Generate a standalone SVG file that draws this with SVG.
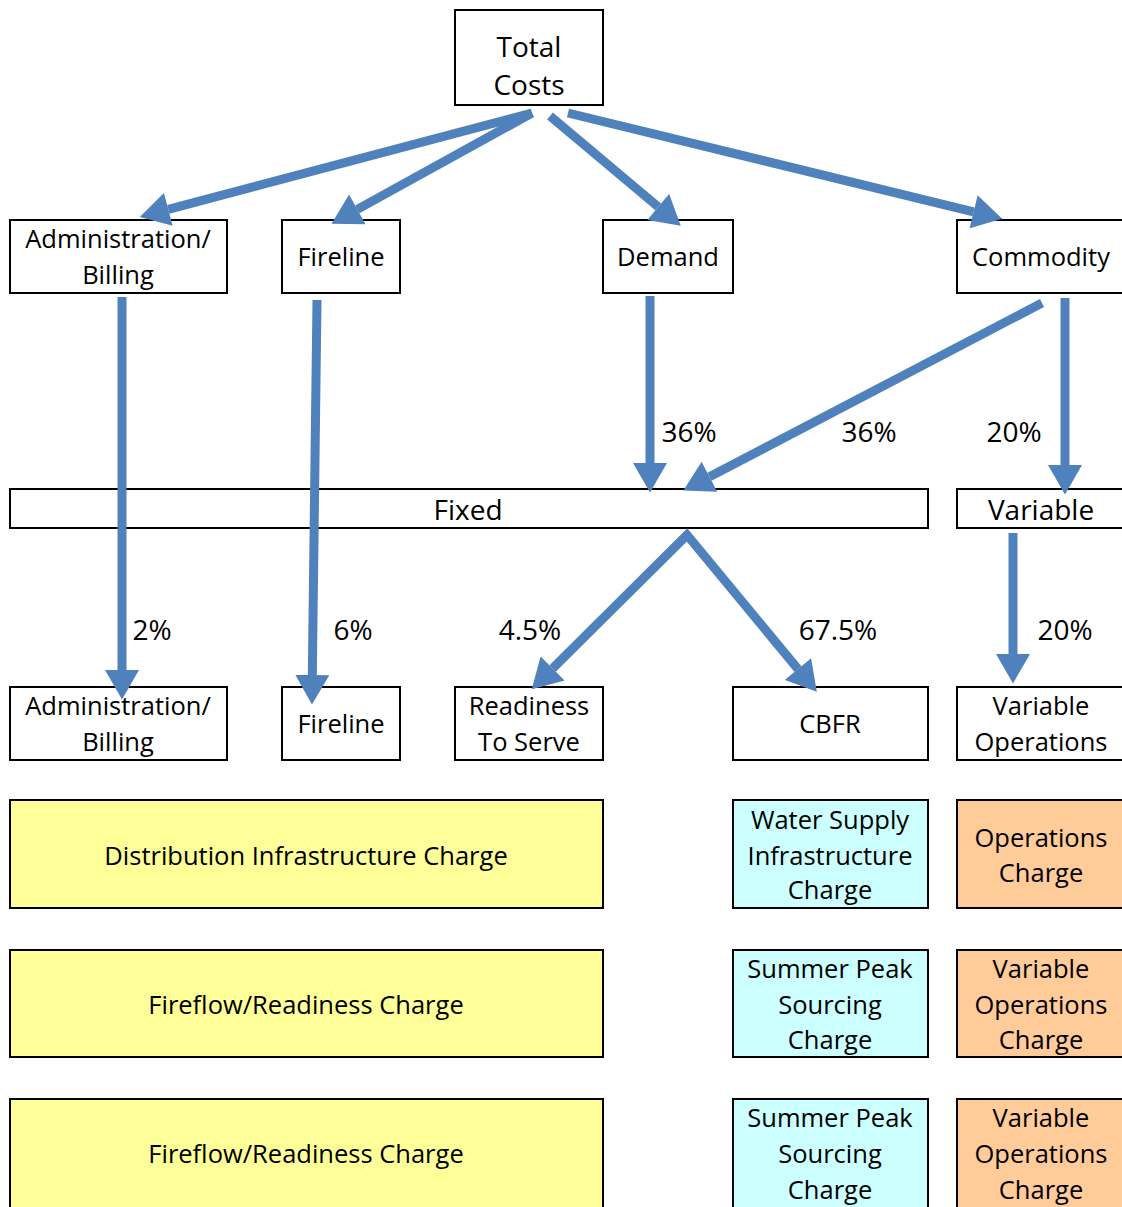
<svg xmlns="http://www.w3.org/2000/svg" width="1122" height="1207" viewBox="0 0 1122 1207">
<defs>
<style>
.box{fill:#fff;stroke:#000;stroke-width:2}
.y{fill:#FFFF99;stroke:#000;stroke-width:2}
.c{fill:#CCFFFF;stroke:#000;stroke-width:2}
.o{fill:#FFCC99;stroke:#000;stroke-width:2}
text{font-family:"Open Sans","Noto Sans",sans-serif;font-size:25.5px;fill:#000;text-anchor:middle;dominant-baseline:central}
text.big{font-size:28px}
.arr{fill:none;stroke:#4F81BD;stroke-width:9;marker-end:url(#ah)}
</style>
<marker id="ah" markerUnits="userSpaceOnUse" markerWidth="30" markerHeight="34" refX="0" refY="15" orient="auto-start-reverse" viewBox="0 0 26 30">
<path d="M0,0 L26,15 L0,30 Z" fill="#4F81BD"/>
</marker>
</defs>
<g id="total-costs"><rect class="box" x="455" y="10" width="148" height="95"/><text class="big" x="529" y="46">Total</text><text class="big" x="529" y="84">Costs</text></g>
<g id="admin-top"><rect class="box" x="10" y="220" width="217" height="73"/><text x="118" y="238">Administration/</text><text x="118" y="274">Billing</text></g>
<g id="fireline-top"><rect class="box" x="282" y="220" width="118" height="73"/><text x="341" y="256">Fireline</text></g>
<g id="demand"><rect class="box" x="603" y="220" width="130" height="73"/><text x="668" y="256">Demand</text></g>
<g id="commodity"><rect class="box" x="957" y="220" width="170" height="73"/><text x="1041" y="256">Commodity</text></g>
<g id="fixed"><rect class="box" x="10" y="489" width="918" height="39"/><text class="big" x="468" y="509">Fixed</text></g>
<g id="variable"><rect class="box" x="957" y="489" width="170" height="39"/><text class="big" x="1041" y="509">Variable</text></g>
<g id="admin-bottom"><rect class="box" x="10" y="687" width="217" height="73"/><text x="118" y="705">Administration/</text><text x="118" y="741">Billing</text></g>
<g id="fireline-bottom"><rect class="box" x="282" y="687" width="118" height="73"/><text x="341" y="723">Fireline</text></g>
<g id="readiness"><rect class="box" x="455" y="687" width="148" height="73"/><text x="529" y="705">Readiness</text><text x="529" y="741">To Serve</text></g>
<g id="cbfr"><rect class="box" x="733" y="687" width="195" height="73"/><text x="830" y="723">CBFR</text></g>
<g id="variable-operations"><rect class="box" x="957" y="687" width="170" height="73"/><text x="1041" y="705">Variable</text><text x="1041" y="741">Operations</text></g>
<g id="dist-charge"><rect class="y" x="10" y="800" width="593" height="108"/><text x="306" y="855">Distribution Infrastructure Charge</text></g>
<g id="ws-charge"><rect class="c" x="733" y="800" width="195" height="108"/><text x="830" y="819">Water Supply</text><text x="830" y="855">Infrastructure</text><text x="830" y="889">Charge</text></g>
<g id="ops-charge"><rect class="o" x="957" y="800" width="170" height="108"/><text x="1041" y="837">Operations</text><text x="1041" y="872">Charge</text></g>
<g id="fireflow-1"><rect class="y" x="10" y="950" width="593" height="107"/><text x="306" y="1004">Fireflow/Readiness Charge</text></g>
<g id="sps-1"><rect class="c" x="733" y="950" width="195" height="107"/><text x="830" y="968">Summer Peak</text><text x="830" y="1004">Sourcing</text><text x="830" y="1039">Charge</text></g>
<g id="vops-1"><rect class="o" x="957" y="950" width="170" height="107"/><text x="1041" y="968">Variable</text><text x="1041" y="1004">Operations</text><text x="1041" y="1039">Charge</text></g>
<g id="fireflow-2"><rect class="y" x="10" y="1099" width="593" height="120"/><text x="306" y="1153">Fireflow/Readiness Charge</text></g>
<g id="sps-2"><rect class="c" x="733" y="1099" width="195" height="120"/><text x="830" y="1117">Summer Peak</text><text x="830" y="1153">Sourcing</text><text x="830" y="1189">Charge</text></g>
<g id="vops-2"><rect class="o" x="957" y="1099" width="170" height="120"/><text x="1041" y="1117">Variable</text><text x="1041" y="1153">Operations</text><text x="1041" y="1189">Charge</text></g>
<g id="connectors">
<line class="arr" x1="532" y1="113" x2="168.3" y2="209.4"/>
<line class="arr" x1="532" y1="113" x2="357.3" y2="209.4"/>
<line class="arr" x1="550" y1="116" x2="658.2" y2="206.9"/>
<line class="arr" x1="568" y1="113" x2="973.6" y2="211.8"/>
<line class="arr" x1="122" y1="297" x2="122" y2="670"/>
<line class="arr" x1="317" y1="300" x2="312.3" y2="675"/>
<line class="arr" x1="650" y1="296" x2="650" y2="463"/>
<line class="arr" x1="1042" y1="303" x2="709.5" y2="476.8"/>
<line class="arr" x1="1065" y1="298" x2="1065" y2="465"/>
<path class="arr" style="marker-start:url(#ah);stroke-linejoin:miter" d="M552.6,668.5 L687,535 L798,669.1"/>
<line class="arr" x1="1013" y1="533" x2="1013" y2="654"/>
</g>
<g id="labels">
<text class="big" x="689" y="431">36%</text>
<text class="big" x="869" y="431">36%</text>
<text class="big" x="1014" y="431">20%</text>
<text class="big" x="152" y="629">2%</text>
<text class="big" x="353" y="629">6%</text>
<text class="big" x="530" y="629">4.5%</text>
<text class="big" x="838" y="629">67.5%</text>
<text class="big" x="1065" y="629">20%</text>
</g>
</svg>
